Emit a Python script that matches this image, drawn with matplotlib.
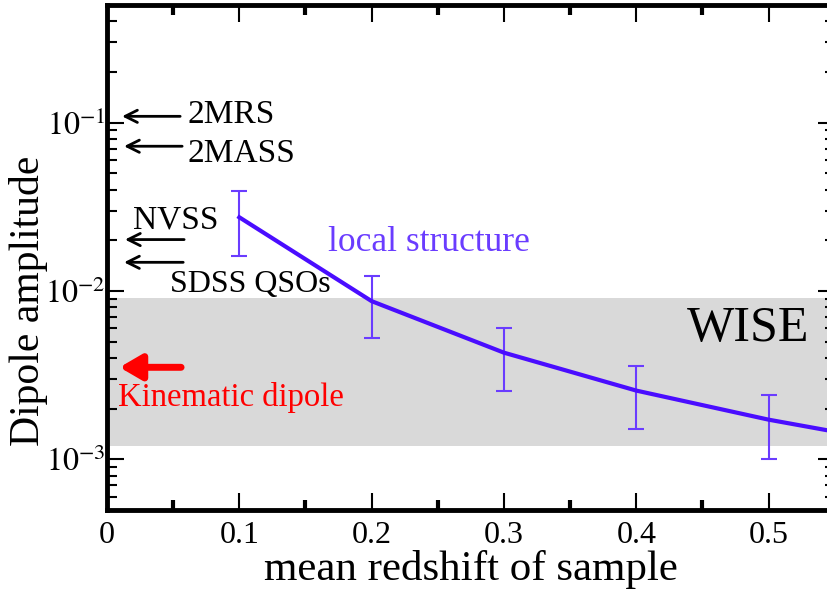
import numpy as np
import matplotlib
matplotlib.use("Agg")
from matplotlib import pyplot as plt
from matplotlib.ticker import LogLocator, MultipleLocator, NullFormatter

plt.rcParams['font.family'] = ['Liberation Serif', 'DejaVu Serif']
plt.rcParams['mathtext.fontset'] = 'stix'

# local structure prediction with error bars
z_mean = [0.1, 0.2, 0.3, 0.4, 0.5]
amp = [0.0274, 0.0087, 0.0043, 0.00256, 0.00172]
amp_hi = [0.039, 0.0122, 0.0060, 0.00356, 0.00242]
amp_lo = [0.0161, 0.00524, 0.00256, 0.00152, 0.0010]

# curve continues to the edge of the plot
z_curve = [0.1, 0.2, 0.3, 0.4, 0.5, 0.55]
amp_curve = [0.0274, 0.0087, 0.0043, 0.00256, 0.00172, 0.00146]

# WISE allowed range
wise_lo, wise_hi = 0.0012, 0.0091

# measured dipoles from other surveys
surveys = ['2MRS', '2MASS', 'NVSS', 'SDSS QSOs']
survey_amp = [0.109, 0.0724, 0.0202, 0.0148]
kinematic = 0.00352

line_col = '#4a0dff'
err_col = '#6a3cff'

fig = plt.figure(figsize=(8.28, 5.9), dpi=100)
ax = fig.add_axes([0.1292, 0.1356, 0.879, 0.856])

ax.set_yscale('log')
ax.set_xlim(0, 0.55)
ax.set_ylim(5e-4, 5e-1)

ax.axhspan(wise_lo, wise_hi, color='#d9d9d9', lw=0, zorder=0)

ax.plot(z_curve, amp_curve, color=line_col, lw=3, zorder=3)
yerr = [np.array(amp) - np.array(amp_lo), np.array(amp_hi) - np.array(amp)]
ax.errorbar(z_mean, amp, yerr=yerr, fmt='none', ecolor=err_col, elinewidth=1.5,
            capsize=6, capthick=1.5, zorder=2)

# survey arrows
arrow_x = [(0.0114, 0.0553), (0.0129, 0.0568), (0.0136, 0.0583), (0.0129, 0.0576)]
for (x0, x1), a in zip(arrow_x, survey_amp):
    ax.annotate('', xy=(x0, a), xytext=(x1, a),
                arrowprops=dict(arrowstyle='->', color='black', lw=2,
                                mutation_scale=22, shrinkA=0, shrinkB=0))
ax.text(0.0605, 0.1, surveys[0], fontsize=24, va='baseline', ha='left')
ax.text(0.0605, 0.0582, surveys[1], fontsize=24, va='baseline', ha='left')
ax.text(0.0197, 0.0234, surveys[2], fontsize=24, va='baseline', ha='left')
ax.text(0.0477, 0.00982, surveys[3], fontsize=23, va='baseline', ha='left')

ax.annotate('', xy=(0.0095, kinematic), xytext=(0.056, kinematic),
            arrowprops=dict(arrowstyle='-|>,head_length=0.6,head_width=0.35',
                            color='red', lw=5, mutation_scale=22,
                            shrinkA=0, shrinkB=0))
ax.text(0.0083, 0.00206, 'Kinematic dipole', color='red', fontsize=23.5,
        va='baseline', ha='left')

ax.text(0.167, 0.01733, 'local structure', color=err_col, fontsize=25.5,
        va='baseline', ha='left')
ax.text(0.531, 0.00503, 'WISE', color='black', fontsize=36, va='baseline', ha='right')

# axes styling
for s in ax.spines.values():
    s.set_linewidth(3.5)

ax.xaxis.set_minor_locator(MultipleLocator(0.05))
ax.set_xticks([0, 0.1, 0.2, 0.3, 0.4, 0.5])
ax.set_xticklabels(['0', '0.1', '0.2', '0.3', '0.4', '0.5'])
ax.yaxis.set_minor_locator(LogLocator(base=10, subs=np.arange(2, 10), numticks=20))
ax.yaxis.set_minor_formatter(NullFormatter())
ax.set_yticks([1e-3, 1e-2, 1e-1])
ax.set_yticklabels([r'$10^{-3}$', r'$10^{-2}$', r'$10^{-1}$'])

ax.tick_params(which='both', direction='in', top=True, right=True, width=1.5)
ax.tick_params(which='major', length=12, labelsize=23)
ax.tick_params(axis='x', which='major', pad=8)
ax.tick_params(axis='y', which='major', pad=1)
ax.tick_params(which='minor', length=7)
ax.tick_params(axis='x', which='minor', width=3)

ax.set_xlabel('mean redshift of sample', fontsize=31, labelpad=0)
ax.set_ylabel('Dipole amplitude', fontsize=30)
ax.yaxis.set_label_coords(-0.081, 0.414)

fig.savefig('out.png', dpi=100)
